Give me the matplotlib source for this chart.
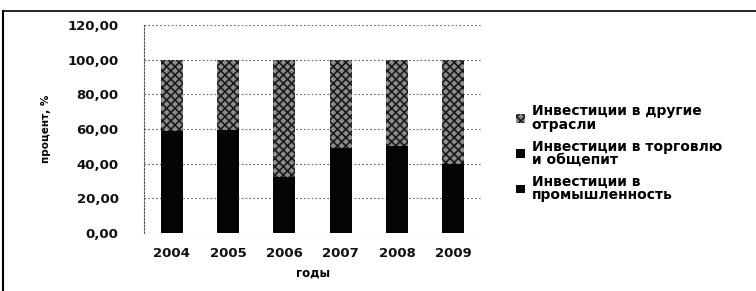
import matplotlib
matplotlib.use("Agg")
import matplotlib.pyplot as plt
from matplotlib.lines import Line2D
from matplotlib.patches import Patch
from matplotlib.ticker import FuncFormatter

plt.rcParams['font.family'] = ['DejaVu Sans']
plt.rcParams['hatch.linewidth'] = 1.2

years = ['2004', '2005', '2006', '2007', '2008', '2009']
industry = [45.0, 47.0, 20.0, 38.0, 40.0, 28.0]
trade = [13.6, 12.6, 12.4, 11.0, 10.5, 11.8]
other = [41.4, 40.4, 67.6, 51.0, 49.5, 60.2]

labels = ['Инвестиции в\nпромышленность',
          'Инвестиции в торговлю\nи общепит',
          'Инвестиции в другие\nотрасли']
colors = ['#050505', '#050505', '#8c8c8c']

fig = plt.figure(figsize=(7.56, 2.91), dpi=100)
ax = fig.add_axes([0.19, 0.199, 0.447, 0.715])

x = list(range(len(years)))
w = 0.39
ax.bar(x, industry, w, color=colors[0], zorder=3)
ax.bar(x, trade, w, bottom=industry, color=colors[1], zorder=3)
bottom3 = [a + b for a, b in zip(industry, trade)]
ax.bar(x, other, w, bottom=bottom3, color=colors[2], hatch='xxxx',
       edgecolor='#1a1a1a', linewidth=0, zorder=3)

ax.set_xlim(-0.5, 5.5)
ax.set_ylim(0, 120)
ax.set_yticks(range(0, 121, 20))
ax.yaxis.set_major_formatter(FuncFormatter(lambda v, p: f"{v:.2f}".replace('.', ',')))
ax.set_xticks(x)
ax.set_xticklabels(years)
ax.tick_params(axis='both', length=0, labelsize=9.5, colors='#111111')
for t in ax.get_xticklabels() + ax.get_yticklabels():
    t.set_fontweight('bold')
ax.tick_params(axis='y', pad=18)
ax.tick_params(axis='x', pad=10)
ax.grid(axis='y', linestyle=(0, (1.5, 2)), color='#666666', linewidth=0.8, zorder=0)
for s in ['top', 'right', 'bottom']:
    ax.spines[s].set_visible(False)
ax.spines['left'].set_linestyle((0, (1.5, 1.5)))
ax.spines['left'].set_color('#555555')
ax.spines['left'].set_linewidth(0.8)

ax.set_ylabel('процент, %', fontsize=7.5, fontweight='bold', labelpad=12)
ax.set_xlabel('годы', fontsize=8.5, fontweight='bold', labelpad=5)

handles = [Patch(facecolor=colors[2], hatch='xxxx', edgecolor='#1a1a1a', linewidth=0),
           Patch(facecolor=colors[1]),
           Patch(facecolor=colors[0])]
leg = fig.legend(handles, [labels[2], labels[1], labels[0]], loc='upper left',
                 bbox_to_anchor=(0.674, 0.665), frameon=False, borderpad=0,
                 prop={'size': 10, 'weight': 'bold'},
                 handlelength=0.6, handleheight=0.6, handletextpad=0.5,
                 labelspacing=0.55)
for t in leg.get_texts():
    t.set_linespacing(0.95)

# scanned frame border
fig.add_artist(Line2D([0.004, 0.004], [0.0, 0.962], transform=fig.transFigure,
                      color='black', linewidth=1.5))
fig.add_artist(Line2D([0.004, 1.0], [0.962, 0.962], transform=fig.transFigure,
                      color='black', linewidth=1.2))

fig.savefig('out.png', dpi=100)
